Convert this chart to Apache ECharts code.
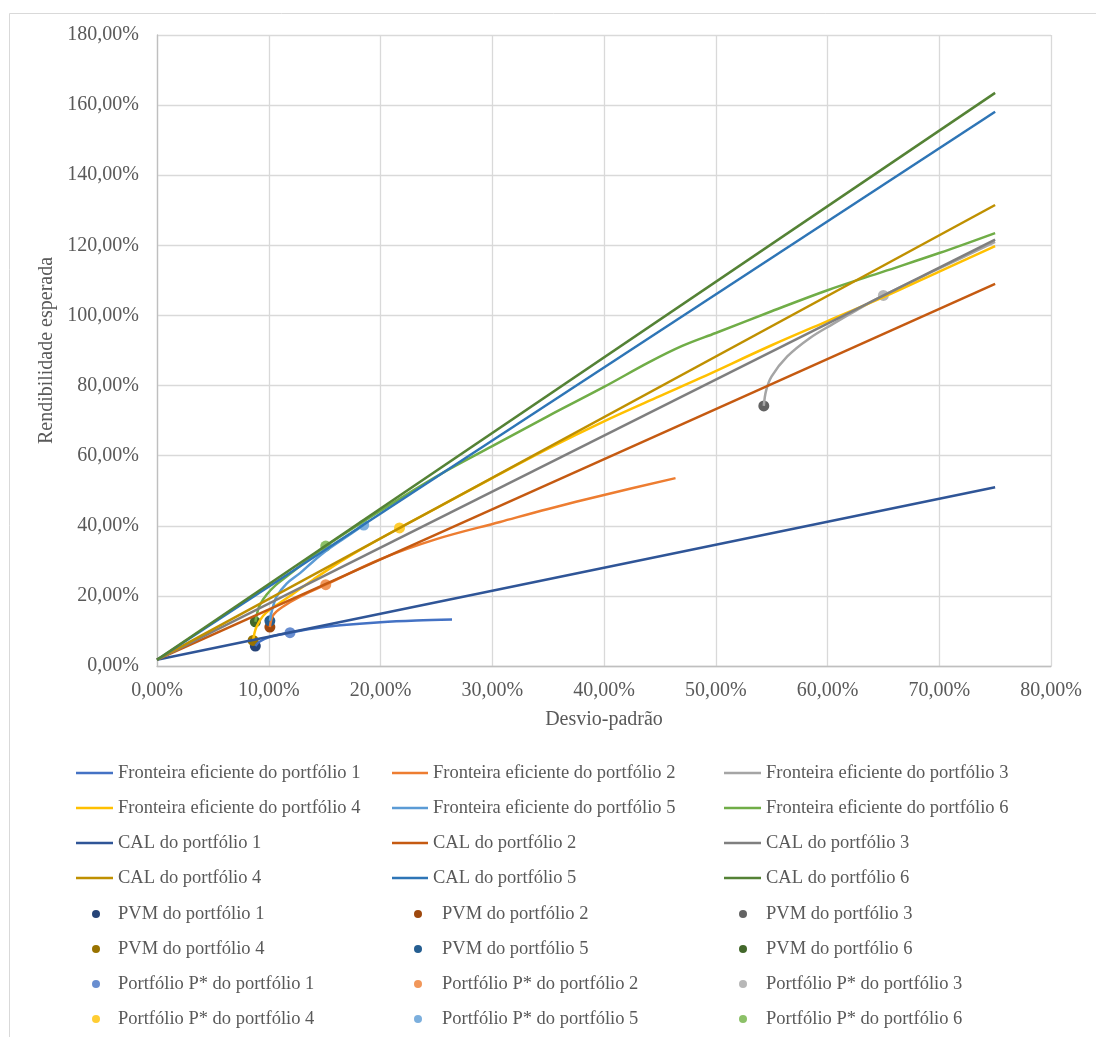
<!DOCTYPE html>
<html>
<head>
<meta charset="utf-8">
<title>Fronteiras eficientes e CAL</title>
<script src="https://cdn.jsdelivr.net/npm/echarts@6/dist/echarts.min.js"></script>
<style>
  html, body { margin: 0; padding: 0; background: #ffffff; }
  #chart { width: 1096px; height: 1037px; }
</style>
</head>
<body>
<div id="chart"></div>
<script>
// Pontos [desvio-padrão %, rendibilidade esperada %]
const fronteira1 = [[8.8,5.7],[9.2,7.0],[10.2,8.4],[11.9,9.5],[14,10.7],[16.4,11.6],[20,12.5],[23.2,13.0],[26.4,13.3]];
const fronteira2 = [[10.1,11.1],[10.4,14.5],[11.3,17.0],[12.8,19.8],[15.1,23.2],[20,30.5],[25,36.2],[30.7,41.1],[35,44.8],[40,48.8],[46.4,53.6]];
const fronteira3 = [[54.3,74.2],[54.5,78.5],[55.0,82.6],[56.4,88.3],[58.4,93.5],[60.5,97.6],[62.5,101.3],[65,105.7],[70,113.4],[75,121.0]];
const fronteira4 = [[8.6,7.3],[8.9,11.1],[9.7,15.0],[11.6,19.3],[14,24.7],[17,30.9],[21.7,39.4],[25,45.0],[30,53.6],[35,62.0],[40,69.8],[45,77.0],[48.6,82.1],[55,91.5],[60,98.4],[65,105.2],[70,112.5],[75,119.8]];
const fronteira5 = [[10.1,12.9],[10.3,16.0],[10.7,19.8],[11.6,23.5],[12.8,26.5],[14,29.9],[15.2,33.0],[16.8,36.5],[18.5,40.2]];
const fronteira6 = [[8.8,12.6],[9.0,15.5],[9.2,17.4],[9.8,20.3],[10.6,23.0],[11.6,25.5],[13.2,29.5],[15.1,34.2],[20,44.3],[25.3,54.6],[30,62.7],[35,71.3],[40,79.6],[44,86.6],[47,91.3],[50,95.0],[55,101.2],[60,107.2],[65,112.5],[70,117.8],[75,123.5]];

// Taxa sem risco e extremo de cada CAL (desvio-padrão de 75%)
const taxaSemRisco = 1.8;
const calFim = [51.0, 109.0, 121.6, 131.5, 158.1, 163.5];
const calSigmaMax = 75;

// Portfólios de variância mínima e portfólios P*
const pvm = [[8.8,5.7],[10.1,11.1],[54.3,74.2],[8.6,7.3],[10.1,12.9],[8.8,12.6]];
const portfolioP = [[11.9,9.5],[15.1,23.2],[65,105.7],[21.7,39.4],[18.5,40.2],[15.1,34.2]];

const xTicks = { min: 0, max: 80, interval: 10 };
const yTicks = { min: 0, max: 180, interval: 20 };

const coresFronteira = ['#4472C4','#ED7D31','#A5A5A5','#FFC000','#5B9BD5','#70AD47'];
const coresCAL = ['#2F5597','#C55A11','#7F7F7F','#BF9000','#2E75B6','#548235'];
const coresPVM = ['#264478','#9E480E','#636363','#997300','#255E91','#43682B'];
const coresP = ['#698ED0','#F1975A','#B7B7B7','#FFCD33','#7CAFDD','#8CC168'];

const fronteiras = [fronteira1, fronteira2, fronteira3, fronteira4, fronteira5, fronteira6];
const nums = [1,2,3,4,5,6];

const nomeF = n => 'Fronteira eficiente do portfólio ' + n;
const nomeC = n => 'CAL do portfólio ' + n;
const nomeV = n => 'PVM do portfólio ' + n;
const nomeP = n => 'Portfólio P* do portfólio ' + n;

const series = [];
nums.forEach((n, i) => series.push({
  name: nomeF(n), type: 'line', data: fronteiras[i], smooth: 0.35,
  symbol: 'none', lineStyle: { width: 2.5, color: coresFronteira[i] },
  itemStyle: { color: coresFronteira[i] }
}));
nums.forEach((n, i) => series.push({
  name: nomeC(n), type: 'line', data: [[0, taxaSemRisco], [calSigmaMax, calFim[i]]],
  symbol: 'none', lineStyle: { width: 2.5, color: coresCAL[i] },
  itemStyle: { color: coresCAL[i] }
}));
nums.forEach((n, i) => series.push({
  name: nomeV(n), type: 'scatter', data: [pvm[i]], symbol: 'circle', symbolSize: 11,
  itemStyle: { color: coresPVM[i], opacity: 1 }
}));
nums.forEach((n, i) => series.push({
  name: nomeP(n), type: 'scatter', data: [portfolioP[i]], symbol: 'circle', symbolSize: 11,
  itemStyle: { color: coresP[i], opacity: 1 }
}));

const fonte = 'Liberation Serif, Times New Roman, serif';
const pct = v => v.toFixed(2).replace('.', ',') + '%';

const legendText = { fontFamily: fonte, fontSize: 18.5, color: '#595959', lineHeight: 20 };
// Legenda em colunas: linhas desenhadas como traço fino, pontos como círculo
function legenda(left, top, w, h, nomes, icone) {
  return {
    orient: 'vertical', left: left, top: top, padding: 0,
    itemWidth: w, itemHeight: h, itemGap: 15,
    textStyle: legendText, selectedMode: false,
    data: nomes.map(nm => ({ name: nm, icon: icone }))
  };
}

const chart = echarts.init(document.getElementById('chart'), null, { renderer: 'canvas' });
chart.setOption({
  animation: false,
  backgroundColor: '#ffffff',
  graphic: [{
    type: 'rect', left: 7, top: 11,
    shape: { x: 0, y: 0, width: 1200, height: 1100 },
    style: { fill: 'none', stroke: '#D9D9D9', lineWidth: 1 }, silent: true, z: -10
  }],
  grid: { left: 157, right: 45, top: 35, bottom: 371, containLabel: false },
  xAxis: {
    type: 'value', min: xTicks.min, max: xTicks.max, interval: xTicks.interval,
    name: 'Desvio-padrão', nameLocation: 'middle', nameGap: 44,
    nameTextStyle: { fontFamily: fonte, fontSize: 20, color: '#595959' },
    axisLine: { show: true, lineStyle: { color: '#BFBFBF', width: 1.3 } },
    axisTick: { show: false },
    axisLabel: { formatter: pct, fontFamily: fonte, fontSize: 20, color: '#595959', margin: 15 },
    splitLine: { show: true, lineStyle: { color: '#D9D9D9', width: 1.3 } }
  },
  yAxis: {
    type: 'value', min: yTicks.min, max: yTicks.max, interval: yTicks.interval,
    name: 'Rendibilidade esperada', nameLocation: 'middle', nameGap: 98,
    nameTextStyle: { fontFamily: fonte, fontSize: 20, color: '#595959' },
    axisLine: { show: true, lineStyle: { color: '#BFBFBF', width: 1.3 } },
    axisTick: { show: false },
    axisLabel: { formatter: pct, fontFamily: fonte, fontSize: 20, color: '#595959', margin: 18 },
    splitLine: { show: true, lineStyle: { color: '#D9D9D9', width: 1.3 } }
  },
  legend: [
    legenda(76, 763, 37, 2.5, [nomeF(1), nomeF(4), nomeC(1), nomeC(4)], 'rect'),
    legenda(392, 763, 36, 2.5, [nomeF(2), nomeF(5), nomeC(2), nomeC(5)], 'rect'),
    legenda(724, 763, 37, 2.5, [nomeF(3), nomeF(6), nomeC(3), nomeC(6)], 'rect'),
    legenda(92, 904, 34, 8, [nomeV(1), nomeV(4), nomeP(1), nomeP(4)], 'circle'),
    legenda(414, 904, 38, 8, [nomeV(2), nomeV(5), nomeP(2), nomeP(5)], 'circle'),
    legenda(739, 904, 36, 8, [nomeV(3), nomeV(6), nomeP(3), nomeP(6)], 'circle')
  ],
  series: series
});
</script>
</body>
</html>
